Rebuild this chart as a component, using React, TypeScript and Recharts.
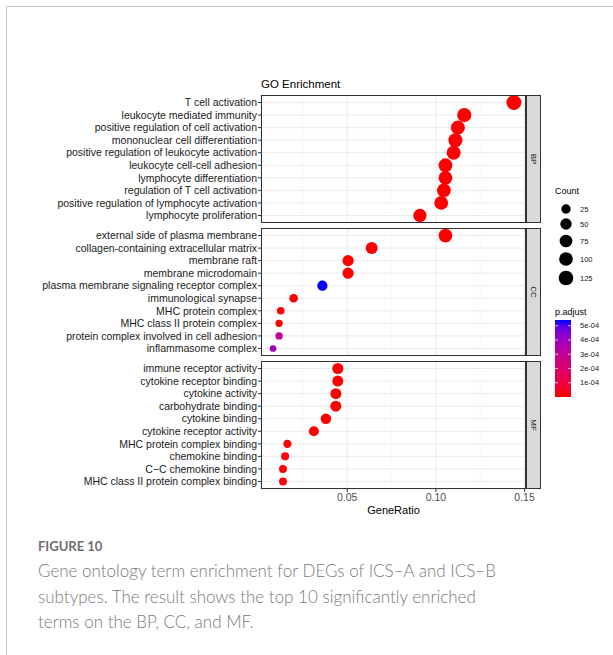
import React from "react";
import {
  ScatterChart,
  Scatter,
  XAxis,
  YAxis,
  ZAxis,
  CartesianGrid,
  ReferenceLine,
  Cell,
} from "recharts";

// ---- data ----
const BP_TERMS = [
  "T cell activation",
  "leukocyte mediated immunity",
  "positive regulation of cell activation",
  "mononuclear cell differentiation",
  "positive regulation of leukocyte activation",
  "leukocyte cell-cell adhesion",
  "lymphocyte differentiation",
  "regulation of T cell activation",
  "positive regulation of lymphocyte activation",
  "lymphocyte proliferation",
];
const BP_RATIO = [0.144, 0.116, 0.1124, 0.111, 0.11, 0.1054, 0.1054, 0.1045, 0.103, 0.091];
const BP_COUNT = [140, 113, 109, 108, 107, 102, 102, 101, 100, 88];
const BP_PADJ = [2.1e-28, 4.5e-22, 3.3e-19, 8.9e-19, 1.2e-18, 6.0e-21, 2.4e-17, 3.7e-17, 9.5e-17, 1.1e-14];

const CC_TERMS = [
  "external side of plasma membrane",
  "collagen-containing extracellular matrix",
  "membrane raft",
  "membrane microdomain",
  "plasma membrane signaling receptor complex",
  "immunological synapse",
  "MHC protein complex",
  "MHC class II protein complex",
  "protein complex involved in cell adhesion",
  "inflammasome complex",
];
const CC_RATIO = [0.1054, 0.0638, 0.0505, 0.0505, 0.036, 0.0198, 0.0125, 0.0116, 0.0116, 0.0082];
const CC_COUNT = [100, 61, 48, 48, 34, 19, 12, 11, 11, 8];
const CC_PADJ = [3.1e-20, 4.2e-9, 2.6e-8, 2.8e-8, 5.4e-4, 1.3e-6, 8.0e-7, 9.6e-7, 3.0e-4, 3.9e-4];

const MF_TERMS = [
  "immune receptor activity",
  "cytokine receptor binding",
  "cytokine activity",
  "carbohydrate binding",
  "cytokine binding",
  "cytokine receptor activity",
  "MHC protein complex binding",
  "chemokine binding",
  "C\u2212C chemokine binding",
  "MHC class II protein complex binding",
];
const MF_RATIO = [0.0447, 0.0447, 0.0436, 0.0436, 0.038, 0.0312, 0.0163, 0.015, 0.0138, 0.0138];
const MF_COUNT = [45, 45, 44, 44, 38, 31, 16, 15, 14, 14];
const MF_PADJ = [1.4e-9, 2.2e-9, 5.1e-9, 6.3e-9, 1.8e-8, 4.4e-7, 3.2e-6, 5.5e-6, 7.9e-6, 8.3e-6];

const X_TICKS = [0.05, 0.1, 0.15];
const X_MINOR = [0.025, 0.075, 0.125];
const COUNT_BREAKS = [25, 50, 75, 100, 125];
const PADJ_BREAKS = [1e-4, 2e-4, 3e-4, 4e-4, 5e-4];
const PADJ_LABELS = ["1e-04", "2e-04", "3e-04", "4e-04", "5e-04"];

// ---- scales / layout ----
const X_DOMAIN = [0.0014, 0.1508];
const ALL_COUNT = [...BP_COUNT, ...CC_COUNT, ...MF_COUNT];
const ALL_PADJ = [...BP_PADJ, ...CC_PADJ, ...MF_PADJ];
const CMIN = Math.min(...ALL_COUNT);
const CMAX = Math.max(...ALL_COUNT);
const PMIN = Math.min(...ALL_PADJ);
const PMAX = Math.max(...ALL_PADJ);
const AREA = [35, 177];

const PANEL_L = 261;
const PANEL_R = 526;
const STRIP_R = 541;
const PANEL_H = 128;
const FONT = "'Liberation Sans', Arial, sans-serif";

// red -> blue in Lab, like ggplot's gradient
const toLin = (c: number) => (c <= 0.04045 ? c / 12.92 : Math.pow((c + 0.055) / 1.055, 2.4));
const toGam = (c: number) => (c <= 0.0031308 ? 12.92 * c : 1.055 * Math.pow(c, 1 / 2.4) - 0.055);
function rgbToLab(r: number, g: number, b: number) {
  const R = toLin(r / 255), G = toLin(g / 255), B = toLin(b / 255);
  const X = (0.4124 * R + 0.3576 * G + 0.1805 * B) / 0.95047;
  const Y = 0.2126 * R + 0.7152 * G + 0.0722 * B;
  const Z = (0.0193 * R + 0.1192 * G + 0.9505 * B) / 1.08883;
  const f = (t: number) => (t > 0.008856 ? Math.cbrt(t) : 7.787 * t + 16 / 116);
  const fx = f(X), fy = f(Y), fz = f(Z);
  return [116 * fy - 16, 500 * (fx - fy), 200 * (fy - fz)];
}
function labToHex(L: number, a: number, b: number) {
  const fy = (L + 16) / 116, fx = fy + a / 500, fz = fy - b / 200;
  const fi = (t: number) => (t * t * t > 0.008856 ? t * t * t : (t - 16 / 116) / 7.787);
  const X = fi(fx) * 0.95047, Y = fi(fy), Z = fi(fz) * 1.08883;
  const rgb = [
    3.2406 * X - 1.5372 * Y - 0.4986 * Z,
    -0.9689 * X + 1.8758 * Y + 0.0415 * Z,
    0.0557 * X - 0.204 * Y + 1.057 * Z,
  ];
  return (
    "#" +
    rgb
      .map((c) => Math.round(Math.min(1, Math.max(0, toGam(Math.min(1, Math.max(0, c))))) * 255))
      .map((v) => v.toString(16).padStart(2, "0"))
      .join("")
  );
}
const LOW = rgbToLab(255, 0, 0);
const HIGH = rgbToLab(0, 0, 255);
function colorAt(t: number) {
  return labToHex(
    LOW[0] + (HIGH[0] - LOW[0]) * t,
    LOW[1] + (HIGH[1] - LOW[1]) * t,
    LOW[2] + (HIGH[2] - LOW[2]) * t
  );
}
const padjColor = (p: number) => colorAt((p - PMIN) / (PMAX - PMIN));

// legend circle size mirrors the ZAxis sqrt scale
function countRadius(c: number) {
  const t = (Math.sqrt(c) - Math.sqrt(CMIN)) / (Math.sqrt(CMAX) - Math.sqrt(CMIN));
  return Math.sqrt((AREA[0] + (AREA[1] - AREA[0]) * t) / Math.PI);
}

type PanelProps = {
  terms: string[];
  ratio: number[];
  count: number[];
  padj: number[];
  top: number;
  showX?: boolean;
};

function Panel({ terms, ratio, count, padj, top, showX }: PanelProps) {
  const rows = terms.map((term, i) => ({
    term,
    y: i + 1,
    x: ratio[i],
    count: count[i],
    padj: padj[i],
  }));
  const h = PANEL_H + (showX ? 30 : 0);
  // plain <text> so long GO terms never wrap
  const YTick = (props: any) => {
    const { x, y, payload } = props;
    return (
      <text x={x} y={y} dy="0.355em" textAnchor="end" fontSize={10.5} fill="#1A1A1A">
        {terms[Math.round(payload.value) - 1]}
      </text>
    );
  };
  return (
    <div style={{ position: "absolute", left: 0, top, width: STRIP_R, height: h }}>
      <ScatterChart
        width={STRIP_R}
        height={h}
        margin={{ top: 0, right: STRIP_R - PANEL_R, bottom: 0, left: 0 }}
      >
        <CartesianGrid stroke="#EBEBEB" strokeWidth={1} />
        {X_MINOR.map((v) => (
          <ReferenceLine key={v} x={v} stroke="#F4F4F4" strokeWidth={0.6} />
        ))}
        <XAxis
          type="number"
          dataKey="x"
          domain={X_DOMAIN}
          allowDataOverflow
          ticks={X_TICKS}
          tickFormatter={(v: number) => v.toFixed(2)}
          hide={!showX}
          height={30}
          axisLine={false}
          tickSize={3}
          tickLine={{ stroke: "#333333" }}
          tick={{ fill: "#4D4D4D", fontSize: 10.5 }}
          interval={0}
        />
        <YAxis
          type="number"
          dataKey="y"
          domain={[0.4, terms.length + 0.6]}
          allowDataOverflow
          reversed
          ticks={rows.map((r) => r.y)}
          width={PANEL_L}
          interval={0}
          axisLine={false}
          tickSize={3}
          tickMargin={1}
          tickLine={{ stroke: "#333333" }}
          tick={YTick}
        />
        <ZAxis type="number" dataKey="count" domain={[CMIN, CMAX]} range={AREA} scale="sqrt" />
        <Scatter data={rows} isAnimationActive={false}>
          {rows.map((r, i) => (
            <Cell key={i} fill={padjColor(r.padj)} />
          ))}
        </Scatter>
      </ScatterChart>
    </div>
  );
}

const PANELS = [
  { label: "BP", top: 95 },
  { label: "CC", top: 228 },
  { label: "MF", top: 361 },
];

export default function App() {
  const barTop = 320;
  const barBot = 397;
  const barY = (v: number) => barBot - ((v - PMIN) / (PMAX - PMIN)) * (barBot - barTop);
  const stops = Array.from({ length: 11 }, (_, i) => i / 10);
  const countY = [209, 224, 241, 259, 278];

  return (
    <div
      style={{
        position: "absolute",
        left: 0,
        top: 0,
        width: 613,
        height: 655,
        background: "#fff",
        fontFamily: FONT,
        overflow: "hidden",
      }}
    >
      <div
        style={{
          position: "absolute",
          left: 6,
          top: 6,
          width: 620,
          height: 660,
          borderLeft: "1px solid #C8C8C8",
          borderTop: "1px solid #C8C8C8",
        }}
      />

      <Panel terms={BP_TERMS} ratio={BP_RATIO} count={BP_COUNT} padj={BP_PADJ} top={95} />
      <Panel terms={CC_TERMS} ratio={CC_RATIO} count={CC_COUNT} padj={CC_PADJ} top={228} />
      <Panel terms={MF_TERMS} ratio={MF_RATIO} count={MF_COUNT} padj={MF_PADJ} top={361} showX />

      <svg
        width={613}
        height={525}
        style={{ position: "absolute", left: 0, top: 0, pointerEvents: "none", fontFamily: FONT }}
      >
        <text x={261} y={88} fontSize={11.5} fill="#000">
          GO Enrichment
        </text>

        {PANELS.map((p) => (
          <g key={p.label}>
            <rect
              x={PANEL_L + 0.5}
              y={p.top + 0.5}
              width={PANEL_R - PANEL_L - 1}
              height={PANEL_H - 1}
              fill="none"
              stroke="#333333"
            />
            <rect
              x={PANEL_R + 0.5}
              y={p.top + 0.5}
              width={STRIP_R - PANEL_R - 1}
              height={PANEL_H - 1}
              fill="#D9D9D9"
              stroke="#333333"
            />
            <text
              x={(PANEL_R + STRIP_R) / 2}
              y={p.top + PANEL_H / 2}
              fontSize={8}
              fill="#1A1A1A"
              textAnchor="middle"
              dominantBaseline="central"
              transform={`rotate(90 ${(PANEL_R + STRIP_R) / 2} ${p.top + PANEL_H / 2})`}
            >
              {p.label}
            </text>
          </g>
        ))}

        <text x={(PANEL_L + PANEL_R) / 2} y={514} fontSize={11} fill="#000" textAnchor="middle">
          GeneRatio
        </text>

        {/* Count legend */}
        <text x={555} y={194} fontSize={9} fill="#000">
          Count
        </text>
        {COUNT_BREAKS.map((c, i) => (
          <g key={c}>
            <circle cx={566} cy={countY[i]} r={countRadius(c)} fill="#000" />
            <text x={580} y={countY[i]} fontSize={7.5} fill="#1A1A1A" dominantBaseline="central">
              {c}
            </text>
          </g>
        ))}

        {/* p.adjust colourbar */}
        <text x={555} y={315} fontSize={9} fill="#000">
          p.adjust
        </text>
        <defs>
          <linearGradient id="padj" x1="0" y1="1" x2="0" y2="0">
            {stops.map((t) => (
              <stop key={t} offset={t} stopColor={colorAt(t)} />
            ))}
          </linearGradient>
        </defs>
        <rect x={555} y={barTop} width={16} height={barBot - barTop} fill="url(#padj)" />
        {PADJ_BREAKS.map((v, i) => (
          <g key={v}>
            <line x1={555} x2={558} y1={barY(v)} y2={barY(v)} stroke="#fff" strokeOpacity={0.7} />
            <line x1={568} x2={571} y1={barY(v)} y2={barY(v)} stroke="#fff" strokeOpacity={0.7} />
            <text x={580} y={barY(v)} fontSize={7.5} fill="#1A1A1A" dominantBaseline="central">
              {PADJ_LABELS[i]}
            </text>
          </g>
        ))}
      </svg>

      <div
        style={{
          position: "absolute",
          left: 38,
          top: 538,
          fontFamily: "Lato, 'Open Sans', sans-serif",
          color: "#7A7A7A",
        }}
      >
        <div style={{ fontSize: 13, fontWeight: 700, color: "#6E6E6E", marginBottom: 4 }}>FIGURE 10</div>
        <div style={{ fontSize: 17, lineHeight: "25.5px", fontWeight: 300 }}>
          Gene ontology term enrichment for DEGs of ICS–A and ICS–B
          <br />
          subtypes. The result shows the top 10 significantly enriched
          <br />
          terms on the BP, CC, and MF.
        </div>
      </div>
    </div>
  );
}
